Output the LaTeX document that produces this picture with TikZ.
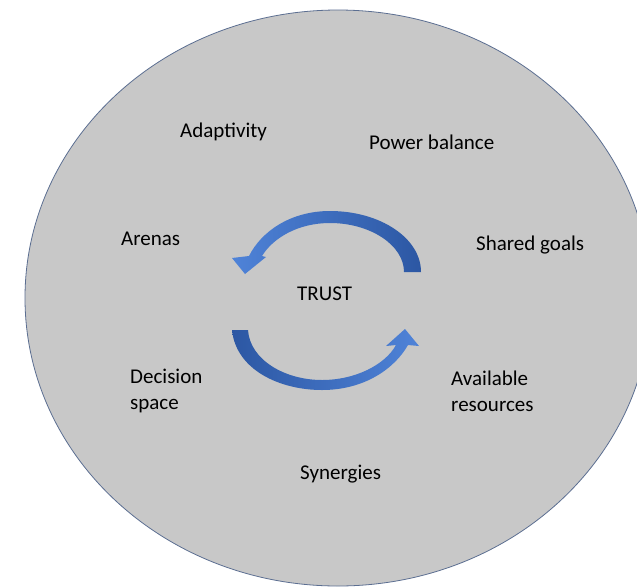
\documentclass[tikz,border=0pt]{standalone}
\usepackage{fontspec}
\setmainfont{Carlito}
\definecolor{discgray}{HTML}{C8C8C8}
\definecolor{discline}{HTML}{5B6E91}
\definecolor{arrowlight}{HTML}{4F83D8}
\definecolor{arrowdark}{HTML}{2C57A3}
\tikzset{
word/.style={inner sep=0pt, anchor=base west, font=\fontsize{21}{26}\selectfont},
bentarrow/.style={draw=none}
}
\begin{document}
\begin{tikzpicture}[x=1pt,y=-1pt]
\useasboundingbox (0,0) rectangle (637,587);
\clip (0,0) rectangle (637,587);
\fill[white] (0,0) rectangle (637,587);
\draw[discline, fill=discgray, line width=0.8pt] (338,298) ellipse [x radius=313, y radius=288];
\shade[bentarrow, left color=arrowlight, right color=arrowdark]
  (421,272) .. controls (421,238) and (380,211) .. (330,211)
  .. controls (290,211) and (261,232) .. (249,256)
  -- (232,258) -- (245,274) -- (266,257) -- (262,256)
  .. controls (273,238) and (298,223) .. (330,223)
  .. controls (370,223) and (404,245) .. (404,272) -- cycle;
\shade[bentarrow, left color=arrowdark, right color=arrowlight]
  (232,330) .. controls (236,370) and (280,390) .. (322,390)
  .. controls (365,390) and (395,368) .. (408,345)
  -- (419,346) -- (405,329) -- (386,346) -- (396,345)
  .. controls (385,365) and (355,380) .. (322,380)
  .. controls (285,380) and (250,360) .. (248,330) -- cycle;
\node[word] (adapt) at (180,137) {Adaptivity};
\node[word] (power) at (369,149) {Power balance};
\node[word] (arenas) at (121,245) {Arenas};
\node[word] (goals) at (476,250) {Shared goals};
\node[word] (trust) at (297,300) {TRUST};
\node[word] (decision) at (130,383) {Decision};
\node[word] (space) at (130,409) {space};
\node[word] (avail) at (451,385) {Available};
\node[word] (resources) at (451,411) {resources};
\node[word] (synergy) at (300,479) {Synergies};
\end{tikzpicture}
\end{document}
